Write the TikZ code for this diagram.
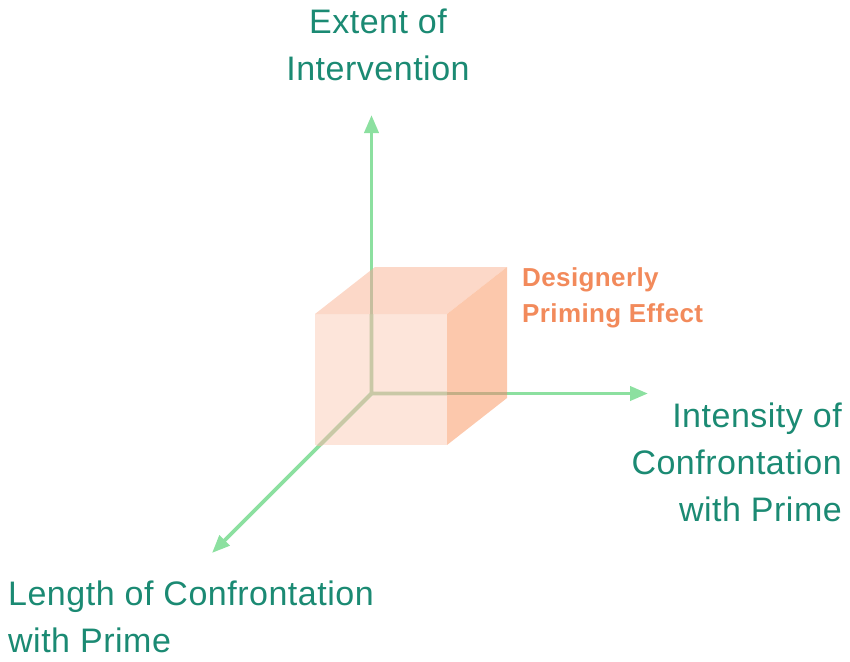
\documentclass[tikz,border=0pt]{standalone}
\usepackage{fontspec}
\setmainfont{Liberation Sans}
\usetikzlibrary{arrows.meta}
\definecolor{axisgreen}{HTML}{8CE0A0}
\definecolor{frontface}{HTML}{FDE5DA}
\definecolor{topface}{HTML}{FCD8C8}
\definecolor{rightface}{HTML}{FCC8AC}
\definecolor{axfront}{HTML}{C9C8A6}
\definecolor{axtop}{HTML}{C6BE9E}
\definecolor{axright}{HTML}{C4AE86}
\definecolor{labteal}{HTML}{1B8A73}
\definecolor{efforange}{HTML}{F28A5B}
\tikzset{
  axisline/.style={line width=3.8pt},
  axisarrow/.style={axisline, draw=axisgreen, -{Triangle[length=18pt,width=14pt]}},
  lab/.style={inner sep=0pt, text=labteal, font=\fontsize{34}{47}\selectfont\addfontfeatures{LetterSpace=1.5}},
  efftext/.style={inner sep=0pt, text=efforange, font=\fontsize{26}{36}\selectfont\bfseries\addfontfeatures{LetterSpace=1.5}},
}
\begin{document}
\begin{tikzpicture}[x=1pt,y=-1pt]
\useasboundingbox (0,0) rectangle (850,661);
% axes coordinates
\coordinate (O) at (371.5,393.5);
\coordinate (Ytip) at (371.5,115);
\coordinate (Xtip) at (648,393.5);
\coordinate (Ztip) at (212,553);
% cube corners
\coordinate (F1) at (315,314);
\coordinate (F2) at (447,314);
\coordinate (F3) at (447,445);
\coordinate (F4) at (315,445);
\coordinate (B1) at (375,267);
\coordinate (B2) at (507,267);
\coordinate (B3) at (507,398);
% cube faces
\fill[frontface] (F1) -- (F2) -- (F3) -- (F4) -- cycle;
\fill[topface] (F1) -- (B1) -- (B2) -- (F2) -- cycle;
\fill[rightface] (F2) -- (B2) -- (B3) -- (F3) -- cycle;
% axes
\draw[axisarrow] (O) -- (Ytip);
\draw[axisarrow] (O) -- (Xtip);
\draw[axisarrow] (O) -- (Ztip);
% axes seen through the cube
\begin{scope}
  \clip (F1) -- (F2) -- (F3) -- (F4) -- cycle;
  \draw[axisline, draw=axfront] (O) -- (Ytip) (O) -- (Xtip) (O) -- (Ztip);
\end{scope}
\begin{scope}
  \clip (F1) -- (B1) -- (B2) -- (F2) -- cycle;
  \draw[axisline, draw=axtop] (O) -- (Ytip);
\end{scope}
\begin{scope}
  \clip (F2) -- (B2) -- (B3) -- (F3) -- cycle;
  \draw[axisline, draw=axright] (O) -- (Xtip);
\end{scope}
% labels (base anchor = baseline of the last line)
\node[lab, anchor=base, align=center] (ext) at (378,80) {Extent of\\Intervention};
\node[lab, anchor=base east, align=right] (int) at (842,521) {Intensity of\\Confrontation\\with Prime};
\node[lab, anchor=base west, align=left] (len) at (8,652) {Length of Confrontation\\with Prime};
\node[efftext, anchor=base west, align=left] (eff) at (522,322) {Designerly\\Priming Effect};
\end{tikzpicture}
\end{document}
